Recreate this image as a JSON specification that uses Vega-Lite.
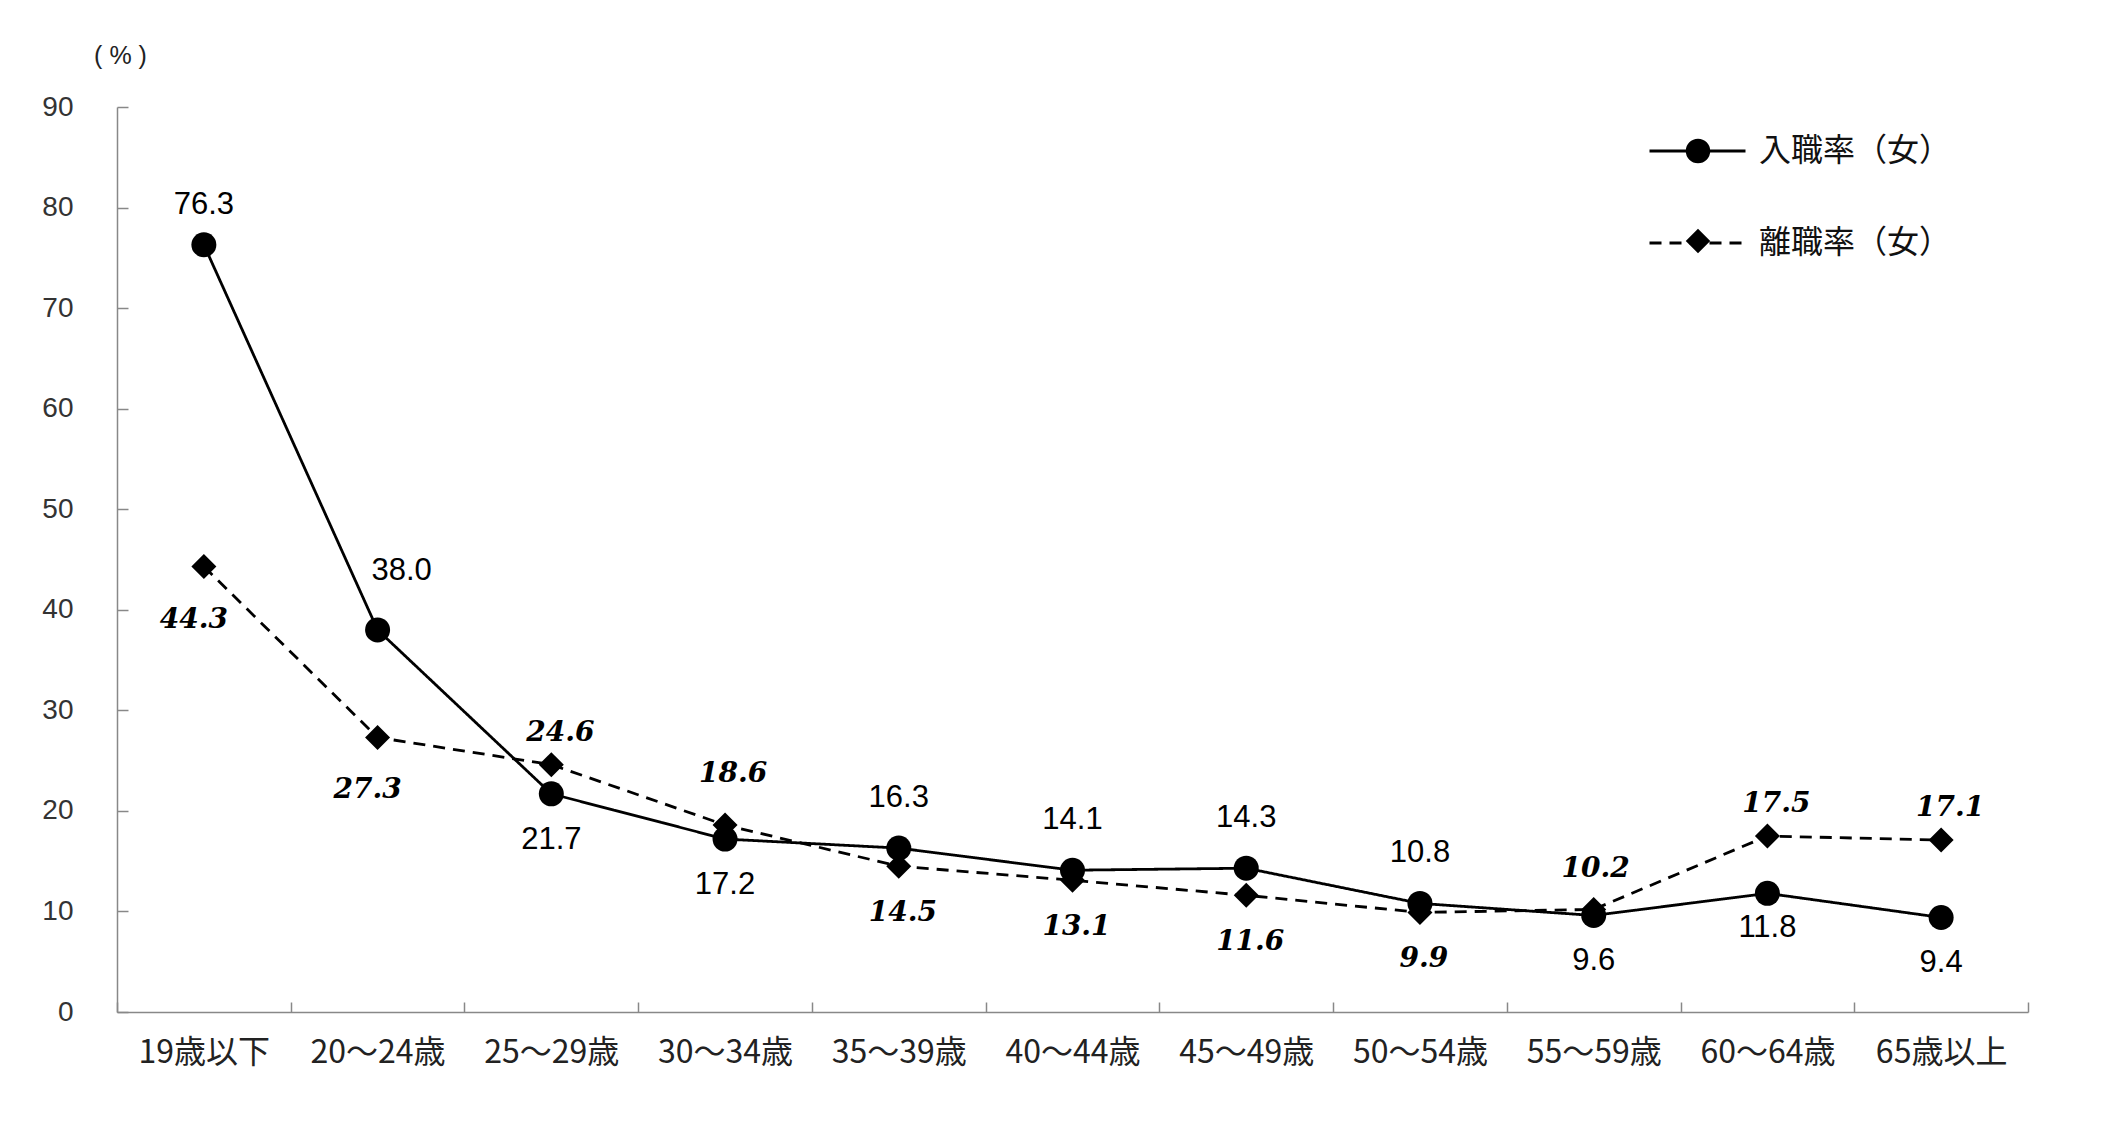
{
  "$schema": "https://vega.github.io/schema/vega-lite/v6.json",
  "width": 1911,
  "height": 905,
  "autosize": {"type": "none"},
  "padding": {"left": 117, "top": 107, "right": 76, "bottom": 134},
  "background": "white",
  "config": {"view": {"stroke": null}, "axis": {"grid": false}},
  "data": {
    "values": [
      {"age": "19歳以下", "series": "入職率（女）", "value": 76.3},
      {"age": "20～24歳", "series": "入職率（女）", "value": 38.0},
      {"age": "25～29歳", "series": "入職率（女）", "value": 21.7},
      {"age": "30～34歳", "series": "入職率（女）", "value": 17.2},
      {"age": "35～39歳", "series": "入職率（女）", "value": 16.3},
      {"age": "40～44歳", "series": "入職率（女）", "value": 14.1},
      {"age": "45～49歳", "series": "入職率（女）", "value": 14.3},
      {"age": "50～54歳", "series": "入職率（女）", "value": 10.8},
      {"age": "55～59歳", "series": "入職率（女）", "value": 9.6},
      {"age": "60～64歳", "series": "入職率（女）", "value": 11.8},
      {"age": "65歳以上", "series": "入職率（女）", "value": 9.4},
      {"age": "19歳以下", "series": "離職率（女）", "value": 44.3},
      {"age": "20～24歳", "series": "離職率（女）", "value": 27.3},
      {"age": "25～29歳", "series": "離職率（女）", "value": 24.6},
      {"age": "30～34歳", "series": "離職率（女）", "value": 18.6},
      {"age": "35～39歳", "series": "離職率（女）", "value": 14.5},
      {"age": "40～44歳", "series": "離職率（女）", "value": 13.1},
      {"age": "45～49歳", "series": "離職率（女）", "value": 11.6},
      {"age": "50～54歳", "series": "離職率（女）", "value": 9.9},
      {"age": "55～59歳", "series": "離職率（女）", "value": 10.2},
      {"age": "60～64歳", "series": "離職率（女）", "value": 17.5},
      {"age": "65歳以上", "series": "離職率（女）", "value": 17.1}
    ]
  },
  "encoding": {
    "x": {
      "field": "age",
      "type": "nominal",
      "sort": ["19歳以下", "20～24歳", "25～29歳", "30～34歳", "35～39歳", "40～44歳", "45～49歳", "50～54歳", "55～59歳", "60～64歳", "65歳以上"],
      "scale": {"type": "band", "paddingInner": 0, "paddingOuter": 0},
      "axis": {
        "title": null,
        "labelAngle": 0,
        "tickBand": "extent",
        "tickSize": -10,
        "tickColor": "#888888",
        "tickWidth": 1.5,
        "domainColor": "#888888",
        "domainWidth": 1.5,
        "labelFont": "Noto Sans CJK JP",
        "labelFontSize": 32,
        "labelColor": "#222222",
        "labelPadding": 35
      }
    },
    "y": {
      "field": "value",
      "type": "quantitative",
      "scale": {"domain": [0, 90], "nice": false},
      "axis": {
        "title": "( % )",
        "titleAngle": 0,
        "titleAlign": "center",
        "titleBaseline": "middle",
        "titleX": 3,
        "titleY": -52,
        "titleFont": "Liberation Sans",
        "titleFontSize": 25,
        "titleFontWeight": "normal",
        "titleColor": "#222222",
        "values": [0, 10, 20, 30, 40, 50, 60, 70, 80, 90],
        "tickSize": -11,
        "tickColor": "#888888",
        "tickWidth": 1.5,
        "domainColor": "#888888",
        "domainWidth": 1.5,
        "labelFont": "Liberation Sans",
        "labelFontSize": 28,
        "labelColor": "#333333",
        "labelPadding": 55
      }
    }
  },
  "layer": [
    {
      "mark": {"type": "line", "color": "black", "strokeWidth": 2.8},
      "encoding": {
        "strokeDash": {
          "field": "series",
          "type": "nominal",
          "scale": {"range": [[1, 0], [12, 8]]},
          "legend": {
            "orient": "none",
            "legendX": 1531,
            "legendY": 29,
            "title": null,
            "symbolType": "stroke",
            "symbolSize": 9216,
            "symbolStrokeWidth": 2.8,
            "symbolStrokeColor": "black",
            "clipHeight": 30,
            "rowPadding": 60,
            "labelFont": "Noto Sans CJK JP",
            "labelFontSize": 32,
            "labelColor": "#111111",
            "labelOffset": 12,
            "labelLimit": 400
          }
        }
      }
    },
    {
      "mark": {"type": "point", "filled": true, "color": "black", "opacity": 1, "size": 625},
      "encoding": {
        "shape": {
          "field": "series",
          "type": "nominal",
          "scale": {"domain": ["入職率（女）", "離職率（女）"], "range": ["circle", "diamond"]},
          "legend": {
            "orient": "none",
            "legendX": 1566,
            "legendY": 29,
            "title": null,
            "symbolSize": 600,
            "symbolFillColor": "black",
            "symbolStrokeColor": "black",
            "symbolOpacity": 1,
            "clipHeight": 30,
            "rowPadding": 60,
            "labelExpr": "''",
            "labelFontSize": 30
          }
        }
      }
    },
    {
      "transform": [{"filter": {"and": [{"field": "series", "equal": "入職率（女）"}, {"field": "age", "oneOf": ["35～39歳", "40～44歳", "45～49歳", "50～54歳"]}]}}],
      "mark": {"type": "text", "font": "Liberation Sans", "fontSize": 31, "color": "black", "baseline": "middle", "dy": -50},
      "encoding": {"text": {"field": "value", "type": "quantitative", "format": ".1f"}}
    },
    {
      "transform": [{"filter": {"and": [{"field": "series", "equal": "入職率（女）"}, {"field": "age", "equal": "19歳以下"}]}}],
      "mark": {"type": "text", "font": "Liberation Sans", "fontSize": 31, "color": "black", "baseline": "middle", "dy": -40},
      "encoding": {"text": {"field": "value", "type": "quantitative", "format": ".1f"}}
    },
    {
      "transform": [{"filter": {"and": [{"field": "series", "equal": "入職率（女）"}, {"field": "age", "equal": "20～24歳"}]}}],
      "mark": {"type": "text", "font": "Liberation Sans", "fontSize": 31, "color": "black", "baseline": "middle", "dx": 24, "dy": -59},
      "encoding": {"text": {"field": "value", "type": "quantitative", "format": ".1f"}}
    },
    {
      "transform": [{"filter": {"and": [{"field": "series", "equal": "入職率（女）"}, {"field": "age", "oneOf": ["25～29歳", "30～34歳", "55～59歳", "65歳以上"]}]}}],
      "mark": {"type": "text", "font": "Liberation Sans", "fontSize": 31, "color": "black", "baseline": "middle", "dy": 46},
      "encoding": {"text": {"field": "value", "type": "quantitative", "format": ".1f"}}
    },
    {
      "transform": [{"filter": {"and": [{"field": "series", "equal": "入職率（女）"}, {"field": "age", "equal": "60～64歳"}]}}],
      "mark": {"type": "text", "font": "Liberation Sans", "fontSize": 31, "color": "black", "baseline": "middle", "dy": 35},
      "encoding": {"text": {"field": "value", "type": "quantitative", "format": ".1f"}}
    },
    {
      "transform": [{"filter": {"and": [{"field": "series", "equal": "離職率（女）"}, {"field": "age", "oneOf": ["35～39歳", "40～44歳", "45～49歳", "50～54歳"]}]}}],
      "mark": {"type": "text", "font": "DejaVu Serif", "fontStyle": "italic", "fontWeight": "bold", "fontSize": 28, "color": "black", "baseline": "middle", "dx": 4, "dy": 47},
      "encoding": {"text": {"field": "value", "type": "quantitative", "format": ".1f"}}
    },
    {
      "transform": [{"filter": {"and": [{"field": "series", "equal": "離職率（女）"}, {"field": "age", "oneOf": ["19歳以下", "20～24歳"]}]}}],
      "mark": {"type": "text", "font": "DejaVu Serif", "fontStyle": "italic", "fontWeight": "bold", "fontSize": 28, "color": "black", "baseline": "middle", "dx": -10, "dy": 53},
      "encoding": {"text": {"field": "value", "type": "quantitative", "format": ".1f"}}
    },
    {
      "transform": [{"filter": {"and": [{"field": "series", "equal": "離職率（女）"}, {"field": "age", "oneOf": ["25～29歳", "60～64歳", "65歳以上"]}]}}],
      "mark": {"type": "text", "font": "DejaVu Serif", "fontStyle": "italic", "fontWeight": "bold", "fontSize": 28, "color": "black", "baseline": "middle", "dx": 9, "dy": -32},
      "encoding": {"text": {"field": "value", "type": "quantitative", "format": ".1f"}}
    },
    {
      "transform": [{"filter": {"and": [{"field": "series", "equal": "離職率（女）"}, {"field": "age", "equal": "30～34歳"}]}}],
      "mark": {"type": "text", "font": "DejaVu Serif", "fontStyle": "italic", "fontWeight": "bold", "fontSize": 28, "color": "black", "baseline": "middle", "dx": 8, "dy": -51},
      "encoding": {"text": {"field": "value", "type": "quantitative", "format": ".1f"}}
    },
    {
      "transform": [{"filter": {"and": [{"field": "series", "equal": "離職率（女）"}, {"field": "age", "equal": "55～59歳"}]}}],
      "mark": {"type": "text", "font": "DejaVu Serif", "fontStyle": "italic", "fontWeight": "bold", "fontSize": 28, "color": "black", "baseline": "middle", "dx": 2, "dy": -40},
      "encoding": {"text": {"field": "value", "type": "quantitative", "format": ".1f"}}
    }
  ]
}
